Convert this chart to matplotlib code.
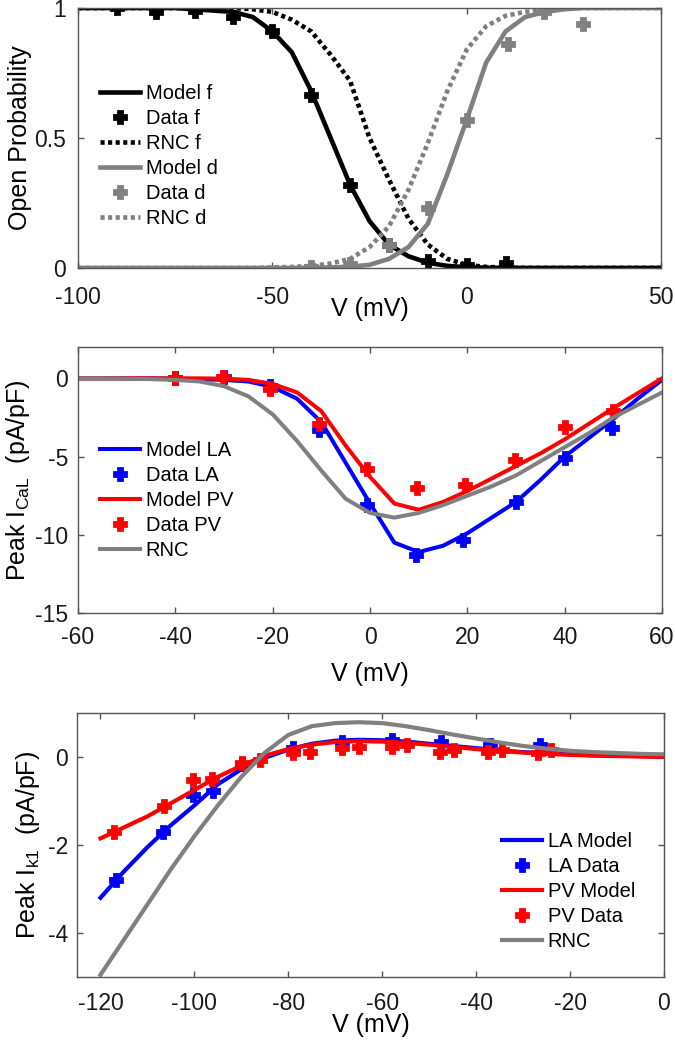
import matplotlib

matplotlib.use("Agg")
import matplotlib.pyplot as plt  # noqa: E402

plt.rcParams["font.family"] = ["Liberation Sans", "DejaVu Sans"]
plt.rcParams["mathtext.fontset"] = "custom"
plt.rcParams["mathtext.rm"] = "Liberation Sans"
plt.rcParams["mathtext.default"] = "regular"
plt.rcParams["axes.unicode_minus"] = False

GRAY = "#808080"
AXC = "#555555"

# ---- panel 1: open probability (f inactivation, d activation) ----
v_gate = [-100, -95, -90, -85, -80, -75, -70, -65, -60, -55, -50, -45, -40,
          -35, -30, -25, -20, -15, -10, -5, 0, 5, 10, 15, 20, 25, 30, 35,
          40, 45, 50]
model_f = [1, 1, 1, 1, 1, 1, 0.995, 0.99, 0.985, 0.965, 0.91, 0.83, 0.68,
           0.5, 0.32, 0.18, 0.09, 0.045, 0.02, 0.008, 0.003, 0.001, 0, 0, 0,
           0, 0, 0, 0, 0, 0]
rnc_f = [1, 1, 1, 1, 1, 1, 1, 1, 1, 0.995, 0.985, 0.955, 0.91, 0.82, 0.72,
         0.5, 0.34, 0.19, 0.09, 0.035, 0.012, 0.004, 0.001, 0, 0, 0, 0, 0,
         0, 0, 0]
model_d = [0, 0, 0, 0, 0, 0, 0, 0, 0, 0, 0, 0, 0.001, 0.002, 0.005, 0.012,
           0.035, 0.08, 0.17, 0.36, 0.57, 0.79, 0.91, 0.965, 0.985, 0.995,
           1, 1, 1, 1, 1]
rnc_d = [0, 0, 0, 0, 0, 0, 0, 0, 0, 0, 0.002, 0.004, 0.008, 0.017, 0.035,
         0.08, 0.16, 0.3, 0.48, 0.68, 0.84, 0.93, 0.97, 0.985, 0.995, 1, 1,
         1, 1, 1, 1]
v_data_f = [-90, -80, -70, -60, -50, -40, -30, -20, -10, 0, 10]
data_f = [1.0, 0.985, 0.99, 0.965, 0.91, 0.665, 0.32, 0.09, 0.025, 0.012,
          0.02]
v_data_d = [-40, -30, -20, -10, 0, 10.5, 20, 30]
data_d = [0.005, 0.015, 0.09, 0.23, 0.57, 0.86, 0.985, 0.94]

# ---- panel 2: peak I_CaL ----
v_cal = [-60, -55, -50, -45, -40, -35, -30, -25, -20, -15, -10, -5, 0, 5,
         10, 15, 20, 25, 30, 35, 40, 45, 50, 55, 60]
cal_model_la = [0, 0, 0, 0, -0.02, -0.05, -0.1, -0.2, -0.55, -1.3, -2.8,
                -5.4, -8.0, -10.5, -11.1, -10.7, -9.9, -8.9, -7.9, -6.5,
                -5.0, -3.8, -2.6, -1.3, -0.1]
cal_model_pv = [0, 0, 0, 0, 0, 0, -0.02, -0.1, -0.35, -0.9, -2.1, -4.3,
                -6.3, -8.0, -8.4, -7.9, -7.2, -6.4, -5.6, -4.8, -3.9, -2.9,
                -1.9, -0.95, 0]
cal_rnc = [0, 0, -0.02, -0.05, -0.1, -0.2, -0.5, -1.15, -2.3, -4.0, -5.9,
           -7.7, -8.6, -8.9, -8.6, -8.1, -7.5, -6.9, -6.2, -5.3, -4.4, -3.5,
           -2.5, -1.7, -0.9]
v_cal_la = [-40, -30, -20.5, -10.5, -0.6, 9.5, 19.2, 30, 40, 49.7]
cal_data_la = [0, 0.1, -0.5, -3.3, -8.1, -11.3, -10.3, -7.9, -5.1, -3.2]
v_cal_pv = [-40, -30.3, -20.5, -10.5, -0.7, 9.7, 19.5, 29.8, 40, 50]
cal_data_pv = [0, 0.1, -0.7, -2.9, -5.8, -7.0, -6.8, -5.2, -3.1, -2.1]

# ---- panel 3: peak I_K1 ----
v_k1 = [-120, -115, -110, -105, -100, -95, -90, -85, -80, -75, -70, -65,
        -60, -55, -50, -45, -40, -35, -30, -25, -20, -15, -10, -5, 0]
k1_model_la = [-3.2, -2.6, -2.05, -1.55, -1.1, -0.62, -0.28, -0.02, 0.17,
               0.3, 0.37, 0.39, 0.38, 0.35, 0.3, 0.25, 0.2, 0.15, 0.11,
               0.08, 0.06, 0.04, 0.03, 0.02, 0.01]
k1_model_pv = [-1.85, -1.6, -1.35, -1.05, -0.75, -0.45, -0.2, 0.03, 0.18,
               0.28, 0.34, 0.36, 0.35, 0.32, 0.28, 0.23, 0.18, 0.14, 0.1,
               0.07, 0.05, 0.03, 0.02, 0.01, 0.0]
k1_rnc = [-4.95, -4.15, -3.35, -2.55, -1.8, -1.1, -0.45, 0.1, 0.5, 0.7,
          0.77, 0.79, 0.77, 0.7, 0.61, 0.51, 0.42, 0.33, 0.25, 0.19, 0.14,
          0.11, 0.09, 0.07, 0.06]
v_k1_la = [-116.8, -106.6, -100.4, -96, -89.8, -79, -68.5, -58, -47.5, -37,
           -26.5]
k1_data_la = [-2.8, -1.7, -0.87, -0.78, -0.15, 0.2, 0.33, 0.38, 0.33, 0.27,
              0.27]
v_k1_pv = [-117.1, -106.5, -100.4, -96.2, -89.8, -86, -78.9, -75.3, -68.6,
           -65, -58, -54.7, -47.6, -44.8, -37.4, -34.5, -26.9, -24]
k1_data_pv = [-1.7, -1.11, -0.52, -0.51, -0.13, -0.07, 0.08, 0.12, 0.2,
              0.23, 0.23, 0.27, 0.12, 0.17, 0.12, 0.17, 0.08, 0.16]


def style_axes(ax, xpad, ypad):
    for s in ax.spines.values():
        s.set_color(AXC)
        s.set_linewidth(1.0)
    ax.tick_params(direction="in", length=4.5, width=1.0, color=AXC,
                   top=True, right=True, labelsize=16.5, labelcolor="#1a1a1a")
    ax.tick_params(axis="x", pad=xpad)
    ax.tick_params(axis="y", pad=ypad)


def add_legend(ax, fig, x, y):
    leg = ax.legend(loc="upper left", bbox_to_anchor=(x, y),
                    bbox_transform=fig.transFigure, frameon=False,
                    fontsize=14.5, numpoints=1, handlelength=2.0,
                    handletextpad=0.27, labelspacing=0.3, borderpad=0,
                    borderaxespad=0)
    return leg


def data_marks(ax, x, y, color, label, ms):
    # fat "+" markers like the MATLAB originals
    ax.plot(x, y, ls="none", marker="P", ms=ms, color=color, mec=color,
            mew=2.0, label=label)


def main() -> None:
    fig = plt.figure(figsize=(6.75, 10.41), dpi=100)
    dots = (0, (0.9, 0.75))

    # top panel
    ax1 = fig.add_axes([0.1156, 0.7426, 0.8637, 0.2497])
    ax1.plot(v_gate, model_f, color="black", lw=3.3, label="Model f")
    data_marks(ax1, v_data_f, data_f, "black", "Data f", 9)
    ax1.plot(v_gate, rnc_f, color="black", lw=3.3, ls=dots, label="RNC f")
    ax1.plot(v_gate, model_d, color=GRAY, lw=3.3, label="Model d")
    data_marks(ax1, v_data_d, data_d, GRAY, "Data d", 9)
    ax1.plot(v_gate, rnc_d, color=GRAY, lw=3.3, ls=dots, label="RNC d")
    ax1.set_xlim(-100, 50)
    ax1.set_ylim(0, 1)
    ax1.set_xticks([-100, -50, 0, 50])
    ax1.set_yticks([0, 0.5, 1])
    ax1.set_yticklabels(["0", "0.5", "1"])
    style_axes(ax1, xpad=13, ypad=9)
    ax1.set_xlabel("V (mV)", fontsize=18, labelpad=-9)
    ax1.set_ylabel("Open Probability", fontsize=18, labelpad=1.5)
    add_legend(ax1, fig, 0.148, 0.9193)

    # middle panel
    ax2 = fig.add_axes([0.1156, 0.4111, 0.8652, 0.2555])
    ax2.plot(v_cal, cal_model_la, color="#0000ff", lw=2.9, label="Model LA")
    data_marks(ax2, v_cal_la, cal_data_la, "#0000ff", "Data LA", 9)
    ax2.plot(v_cal, cal_model_pv, color="#ff0000", lw=2.9, label="Model PV")
    data_marks(ax2, v_cal_pv, cal_data_pv, "#ff0000", "Data PV", 9)
    ax2.plot(v_cal, cal_rnc, color=GRAY, lw=2.9, label="RNC")
    ax2.set_xlim(-60, 60)
    ax2.set_ylim(-15, 2)
    ax2.set_xticks(range(-60, 61, 20))
    ax2.set_yticks([-15, -10, -5, 0])
    style_axes(ax2, xpad=9.5, ypad=7)
    ax2.set_xlabel("V (mV)", fontsize=18, labelpad=9)
    ax2.set_ylabel(r"Peak I$_{CaL}$  (pA/pF)", fontsize=18, labelpad=2)
    add_legend(ax2, fig, 0.148, 0.5764)

    # bottom panel
    ax3 = fig.add_axes([0.1141, 0.0615, 0.8696, 0.2536])
    ax3.plot(v_k1, k1_model_la, color="#0000ff", lw=3.0, label="LA Model")
    data_marks(ax3, v_k1_la, k1_data_la, "#0000ff", "LA Data", 8)
    ax3.plot(v_k1, k1_model_pv, color="#ff0000", lw=3.0, label="PV Model")
    data_marks(ax3, v_k1_pv, k1_data_pv, "#ff0000", "PV Data", 8)
    ax3.plot(v_k1, k1_rnc, color=GRAY, lw=3.0, label="RNC")
    ax3.set_xlim(-125, 0)
    ax3.set_ylim(-5, 1)
    ax3.set_xticks(range(-120, 1, 20))
    ax3.set_yticks([-4, -2, 0])
    style_axes(ax3, xpad=10.5, ypad=6.5)
    ax3.set_xlabel("V (mV)", fontsize=18, labelpad=-1)
    ax3.set_ylabel(r"Peak I$_{k1}$  (pA/pF)", fontsize=18, labelpad=4)
    add_legend(ax3, fig, 0.7437, 0.2008)

    fig.savefig("out.png", dpi=100)
    plt.close(fig)


if __name__ == "__main__":
    main()
